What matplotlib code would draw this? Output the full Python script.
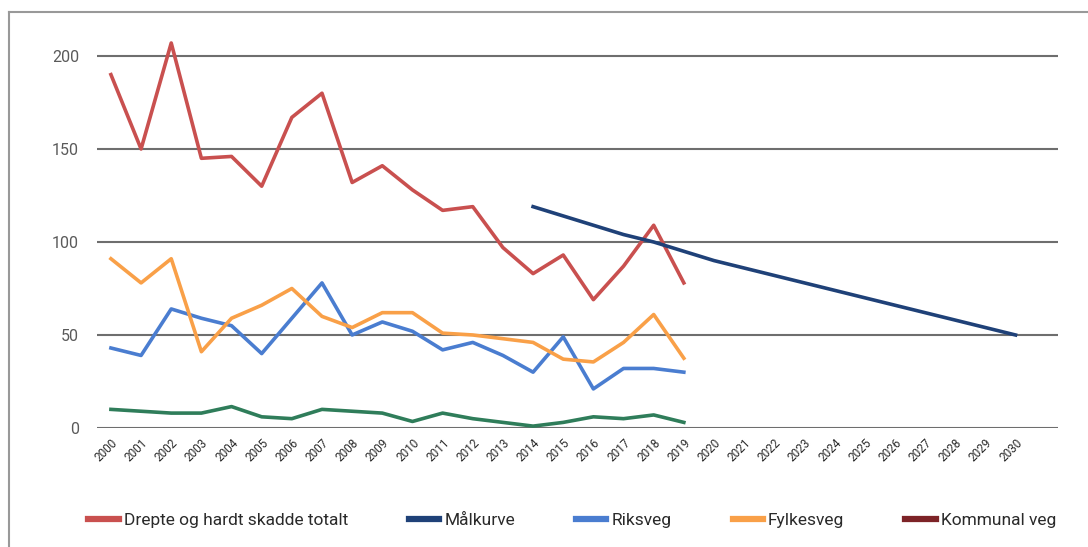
import matplotlib
matplotlib.use('Agg')
import matplotlib.pyplot as plt
from matplotlib.lines import Line2D

plt.rcParams['font.family'] = ['Roboto', 'DejaVu Sans']

# --- Data ---
years_obs = list(range(2000, 2020))
years_all = list(range(2000, 2031))
years_target = list(range(2014, 2031))

totalt = [190, 150, 207, 145, 146, 130, 167, 180, 132, 141,
          128, 117, 119, 97, 83, 93, 69, 87, 109, 78]
malkurve = [119, 114, 109, 104, 100, 95, 90, 86, 82, 78,
            74, 70, 66, 62, 58, 54, 50]
riksveg = [43, 39, 64, 59, 55, 40, 59, 78, 50, 57,
           52, 42, 46, 39, 30, 49, 21, 32, 32, 30]
fylkesveg = [91, 78, 91, 41, 59, 66, 75, 60, 54, 62,
             62, 51, 50, 48, 46, 37, 35.5, 46, 61, 37.5]
kommunal = [10, 9, 8, 8, 11.5, 6, 5, 10, 9, 8,
            3.5, 8, 5, 3, 1, 3, 6, 5, 7, 3]

labels = ['Drepte og hardt skadde totalt', 'Målkurve', 'Riksveg',
          'Fylkesveg', 'Kommunal veg']
y_ticks = [0, 50, 100, 150, 200]

c_red = '#c9504f'
c_navy = '#1f4178'
c_blue = '#4a7dd0'
c_orange = '#f9a048'
c_green = '#2f7d5a'
c_darkred = '#7d2327'

fig = plt.figure(figsize=(10.88, 5.47), dpi=100)
ax = fig.add_axes([0.0892, 0.2176, 0.883, 0.731])

lw = 2.6
ax.plot(years_obs, totalt, color=c_red, lw=lw)
ax.plot(years_target, malkurve, color=c_navy, lw=lw)
ax.plot(years_obs, riksveg, color=c_blue, lw=lw)
ax.plot(years_obs, fylkesveg, color=c_orange, lw=lw)
ax.plot(years_obs, kommunal, color=c_green, lw=lw)

ax.set_xlim(1999.54, 2031.4)
ax.set_ylim(0, 215)
ax.set_yticks(y_ticks)
ax.set_xticks(years_all)
ax.set_xticklabels([str(y) for y in years_all], rotation=45, ha='right',
                   rotation_mode='anchor', fontsize=8.5, color='#2a2a2a')
ax.tick_params(axis='x', length=0, pad=6)
ax.tick_params(axis='y', length=0, pad=13, labelsize=11.5, labelcolor='#5a5a5a')
ax.grid(axis='y', color='#6e6e6e', lw=1.5)
ax.set_axisbelow(True)
for s in ax.spines.values():
    s.set_visible(False)

handles = [Line2D([], [], color=c, lw=4.5) for c in
           [c_red, c_navy, c_blue, c_orange, c_darkred]]
fig.legend(handles, labels, loc='center', bbox_to_anchor=(0.526, 0.048),
           ncol=5, frameon=False, fontsize=12.5, handlelength=1.75,
           handletextpad=0.3, columnspacing=3.5, labelcolor='#2a2a2a')

# outer frame (left and top edges only visible)
fig.add_artist(Line2D([9 / 1088, 9 / 1088], [0, 1 - 12 / 547],
                      transform=fig.transFigure, color='#999999', lw=1.5))
fig.add_artist(Line2D([9 / 1088, 1], [1 - 12 / 547, 1 - 12 / 547],
                      transform=fig.transFigure, color='#999999', lw=1.5))

fig.savefig('out.png', dpi=100)
